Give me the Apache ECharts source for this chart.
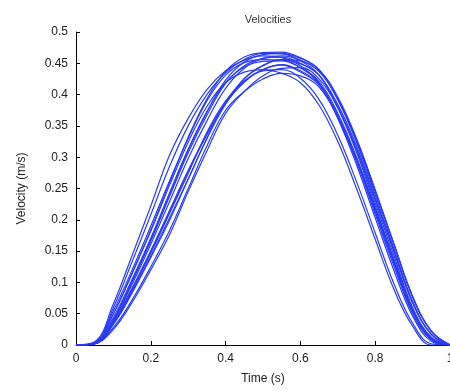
<!DOCTYPE html>
<html>
<head>
<meta charset="utf-8">
<script src="https://cdn.jsdelivr.net/npm/echarts@6/dist/echarts.min.js"></script>
<style>html,body{margin:0;padding:0;background:#fff;overflow:hidden;}#c{width:450px;height:391px;}</style>
</head>
<body>
<div id="c"></div>
<script>
const timeValues = [0, 0.05, 0.1, 0.15, 0.2, 0.25, 0.3, 0.35, 0.4, 0.45, 0.5, 0.55, 0.6, 0.65, 0.7, 0.75, 0.8, 0.85, 0.9, 0.95, 1];
const yTicks = [0, 0.05, 0.1, 0.15, 0.2, 0.25, 0.3, 0.35, 0.4, 0.45, 0.5];
const xTicks = [0, 0.2, 0.4, 0.6, 0.8, 1];

const trial1  = [0, .005, .066, .143, .222, .303, .362, .408, .438, .455, .462, .459, .446, .418, .362, .288, .203, .119, .046, .006, 0];
const trial2  = [0, .004, .060, .133, .208, .285, .350, .400, .435, .456, .466, .465, .454, .431, .379, .308, .222, .136, .056, .010, 0];
const trial3  = [0, .003, .050, .115, .182, .255, .324, .381, .419, .436, .440, .434, .419, .383, .325, .250, .169, .089, .030, 0, 0];
const trial4  = [0, .003, .050, .114, .184, .259, .332, .393, .437, .460, .467, .468, .459, .440, .392, .324, .240, .154, .070, .017, 0];
const trial5  = [0, .002, .044, .105, .171, .243, .313, .373, .419, .444, .453, .454, .443, .421, .370, .300, .217, .133, .055, .010, 0];
const trial6  = [0, .002, .040, .101, .166, .237, .307, .367, .418, .446, .458, .460, .450, .431, .380, .312, .227, .143, .060, .012, 0];
const trial7  = [0, .002, .039, .097, .161, .229, .298, .358, .410, .442, .458, .462, .455, .437, .393, .328, .246, .161, .077, .022, 0];
const trial8  = [0, .002, .037, .091, .151, .215, .279, .337, .387, .420, .438, .440, .426, .392, .335, .261, .179, .098, .035, .002, 0];
const trial9  = [0, .002, .036, .090, .149, .212, .277, .336, .387, .426, .447, .456, .449, .431, .384, .318, .235, .151, .068, .017, 0];
const trial10 = [0, .002, .034, .085, .142, .203, .265, .330, .385, .420, .440, .448, .438, .417, .366, .297, .214, .132, .054, .010, 0];
const trial11 = [0, .002, .033, .083, .140, .199, .265, .330, .385, .425, .446, .456, .454, .437, .392, .327, .245, .161, .077, .022, 0];
const trial12 = [0, .002, .028, .072, .125, .183, .250, .318, .375, .405, .425, .434, .430, .412, .364, .298, .218, .137, .058, .012, 0];
const trial13 = [0, .002, .025, .068, .120, .176, .245, .310, .370, .405, .430, .442, .443, .425, .379, .313, .232, .149, .067, .017, 0];
const trial14 = [0, .003, .055, .120, .190, .262, .330, .390, .431, .451, .456, .455, .443, .418, .364, .293, .209, .126, .050, .008, 0];
const trial15 = [0, .002, .041, .102, .168, .240, .311, .372, .423, .452, .464, .466, .458, .440, .396, .330, .248, .162, .078, .022, 0];
const trial16 = [0, .002, .035, .088, .147, .210, .274, .340, .390, .422, .440, .447, .436, .415, .364, .296, .213, .131, .054, .010, 0];

const trials = [trial1, trial2, trial3, trial4, trial5, trial6, trial7, trial8,
                trial9, trial10, trial11, trial12, trial13, trial14, trial15, trial16];

const chart = echarts.init(document.getElementById('c'), null, {renderer: 'canvas'});
const font = '"Liberation Sans", Arial, Helvetica, sans-serif';

chart.setOption({
  animation: false,
  backgroundColor: '#ffffff',
  title: {
    text: 'Velocities',
    left: 263, top: 9,
    textAlign: 'center',
    textStyle: {fontFamily: font, fontSize: 11, fontWeight: 'normal', color: '#333'}
  },
  grid: {left: 76, right: 0, top: 32, bottom: 46, containLabel: false, outerBoundsMode: 'none'},
  xAxis: {
    type: 'value', min: 0, max: 1, interval: 0.2,
    name: 'Time (s)', nameLocation: 'middle', nameGap: 28,
    nameTextStyle: {fontFamily: font, fontSize: 12, color: '#222'},
    axisLine: {show: true, lineStyle: {color: '#000', width: 1}},
    axisTick: {show: true, inside: true, length: 4, lineStyle: {color: '#000'}},
    splitLine: {show: false},
    axisLabel: {
      fontFamily: font, fontSize: 12, color: '#222', margin: 8,
      showMaxLabel: true, hideOverlap: false,
      formatter: v => { const t = xTicks.find(k => Math.abs(k - v) < 1e-9); return t === undefined ? '' : String(t); }
    }
  },
  yAxis: {
    type: 'value', min: 0, max: 0.5, interval: 0.05,
    name: 'Velocity (m/s)', nameLocation: 'middle', nameGap: 48, nameRotate: 90,
    nameTextStyle: {fontFamily: font, fontSize: 12, color: '#222'},
    axisLine: {show: true, lineStyle: {color: '#000', width: 1}},
    axisTick: {show: true, inside: true, length: 4, lineStyle: {color: '#000'}},
    splitLine: {show: false},
    axisLabel: {
      fontFamily: font, fontSize: 12, color: '#222', margin: 8,
      formatter: v => { const t = yTicks.find(k => Math.abs(k - v) < 1e-9); return t === undefined ? '' : String(t); }
    }
  },
  series: trials.map((vals, i) => ({
    name: 'trial ' + (i + 1),
    type: 'line',
    data: timeValues.map((t, j) => [t, vals[j]]),
    showSymbol: false,
    symbol: 'none',
    smooth: 0.4,
    clip: true,
    lineStyle: {color: '#2a3cf2', width: 1.2},
    z: 2
  }))
});
</script>
</body>
</html>
